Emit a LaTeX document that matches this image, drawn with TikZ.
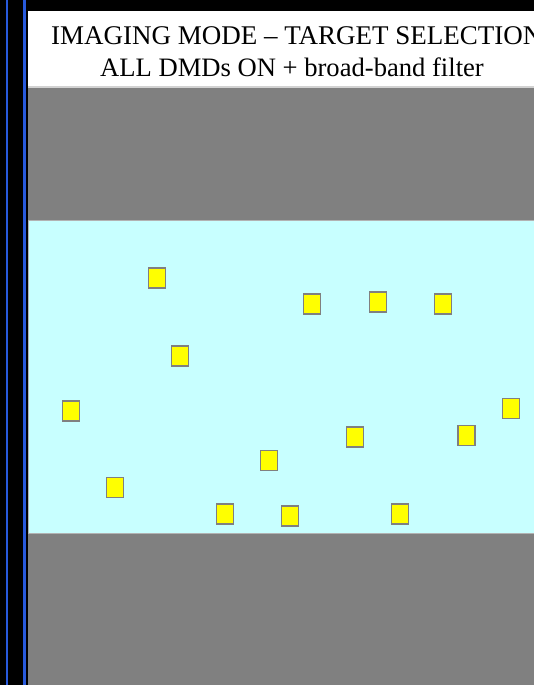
\documentclass[tikz,border=0pt]{standalone}
\usepackage{fontspec}
\setmainfont{Liberation Serif}
\definecolor{bandgray}{HTML}{808080}
\definecolor{cyanbg}{HTML}{C8FFFF}
\definecolor{edgeblue}{RGB}{40,90,220}
\definecolor{sqyellow}{HTML}{FFFF00}
\begin{document}
\begin{tikzpicture}[x=1pt,y=-1pt,
  target/.style={draw=bandgray, line width=1.5pt, fill=sqyellow,
    minimum width=17pt, minimum height=20pt, inner sep=0pt},
  titletext/.style={anchor=base west, inner sep=0pt,
    font=\fontsize{26.6}{30}\selectfont}]
\useasboundingbox (0,0) rectangle (534,685);
\clip (0,0) rectangle (534,685);
\fill[black] (0,0) rectangle (534,685);
\fill[edgeblue] (5.5,0) rectangle (8,685);
\fill[edgeblue] (23,0) rectangle (25.5,685);
\fill[bandgray] (27.5,86) rectangle (534,685);
\fill[white] (27.5,11) rectangle (534,86);
\fill[gray!35] (27.5,86) rectangle (534,87.5);
\fill[gray!60] (27.5,219.5) rectangle (534,534);
\fill[cyanbg] (29,220.5) rectangle (534,533);
\node[titletext, font=\fontsize{27}{30}\selectfont] (title1) at (51,45) {IMAGING MODE – TARGET SELECTION};
\node[titletext] (title2) at (100,76) {ALL DMDs ON + broad-band filter};
\node[target] (t1) at (157,278) {};
\node[target] (t2) at (312,304) {};
\node[target] (t3) at (378,302) {};
\node[target] (t4) at (443,304) {};
\node[target] (t5) at (180,356) {};
\node[target] (t6) at (71,411) {};
\node[target] (t7) at (511,408.5) {};
\node[target] (t8) at (355,437) {};
\node[target] (t9) at (466.5,435.5) {};
\node[target] (t10) at (269,460.5) {};
\node[target] (t11) at (115,487.5) {};
\node[target] (t12) at (225,514) {};
\node[target] (t13) at (290,516) {};
\node[target] (t14) at (400,514) {};
\end{tikzpicture}
\end{document}
